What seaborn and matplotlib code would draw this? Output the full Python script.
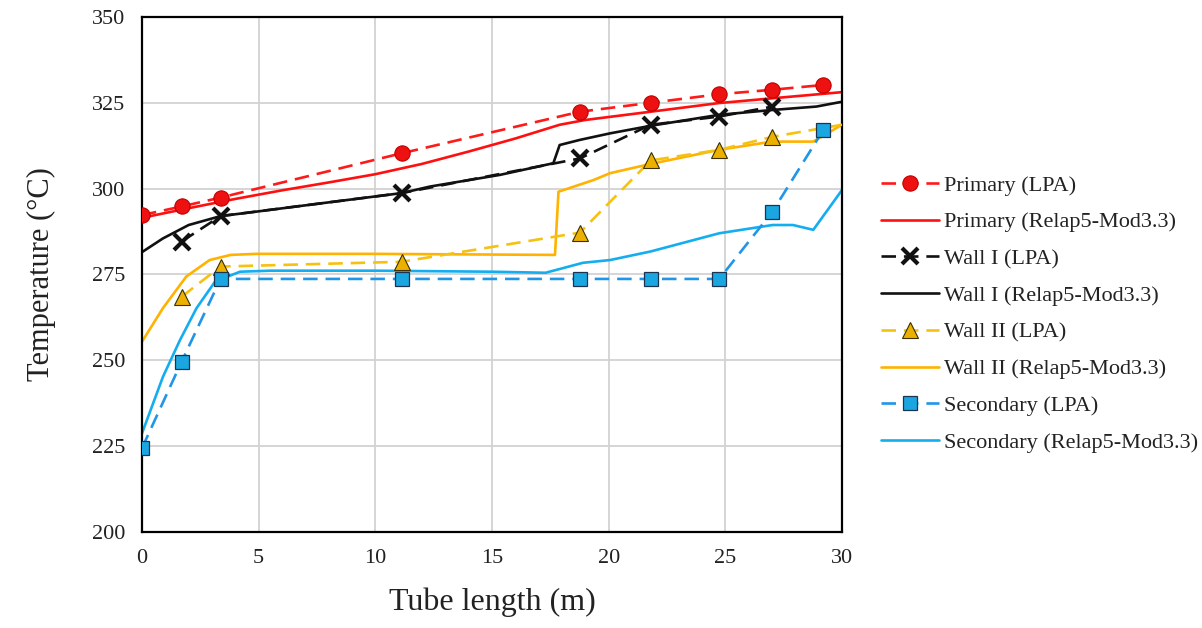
import matplotlib
matplotlib.use("Agg")
import matplotlib.pyplot as plt
import seaborn as sns
import pandas as pd

# ---------------- data ----------------
x_lpa = [0, 1.7, 3.37, 11.13, 18.77, 21.8, 24.74, 27.02, 29.2]
primary_lpa = [292.3, 294.8, 297.4, 310.3, 322.4, 325.0, 327.5, 328.8, 330.2]
secondary_lpa = [224.4, 249.6, 273.7, 273.7, 273.7, 273.7, 273.7, 293.3, 317.1]

x_wall1_lpa = [1.7, 3.37, 11.13, 18.77, 21.8, 24.74, 27.02]
wall1_lpa = [284.6, 292.0, 298.7, 308.8, 318.6, 321.0, 323.9]

x_wall2_lpa = [1.7, 3.37, 11.13, 18.77, 21.8, 24.74, 27.02, 30.0]
wall2_lpa = [268.5, 277.3, 278.7, 287.2, 308.2, 311.3, 315.1, 318.6]

x_primary_relap = [0, 2, 4, 6, 8, 10, 12, 14, 16, 17.9, 19, 21.8, 24.7, 27.0, 30.0]
primary_relap = [291.5, 294.3, 297.0, 299.5, 301.8, 304.2, 307.2, 310.8, 314.6,
                 318.6, 320.0, 322.4, 324.9, 326.3, 328.1]

x_wall1_relap = [0, 0.9, 2.0, 3.37, 4.9, 8, 11.13, 12.34, 15.34, 17.63, 17.9,
                 18.77, 20.06, 21.8, 24.74, 27.0, 28.9, 30.0]
wall1_relap = [281.5, 285.5, 289.4, 292.0, 293.3, 296.0, 298.7, 300.6, 304.0, 307.4,
               312.7, 314.2, 316.1, 318.3, 321.5, 322.9, 323.9, 325.3]

x_wall2_relap = [0, 0.9, 1.9, 2.9, 3.8, 4.9, 10, 15, 17.7, 17.85, 19.35, 20.06,
                 21.8, 24.74, 27.0, 28.77, 30.0]
wall2_relap = [255.4, 265.2, 274.4, 279.2, 280.7, 281.0, 281.0, 280.8, 280.7, 299.1,
               302.5, 304.5, 307.2, 311.3, 313.7, 313.7, 318.6]

x_secondary_relap = [0, 0.9, 1.63, 2.34, 3.13, 4.2, 5.5, 10, 15, 17.3, 18.9, 20.06,
                     21.8, 24.74, 27.02, 27.9, 28.77, 30.0]
secondary_relap = [228.7, 245.2, 255.9, 265.2, 272.9, 275.8, 276.1, 276.1, 275.8,
                   275.5, 278.4, 279.2, 281.7, 287.0, 289.4, 289.4, 288.0, 299.6]

labels = ["Primary (LPA)", "Primary (Relap5-Mod3.3)",
          "Wall I (LPA)", "Wall I (Relap5-Mod3.3)",
          "Wall II (LPA)", "Wall II (Relap5-Mod3.3)",
          "Secondary (LPA)", "Secondary (Relap5-Mod3.3)"]
x_ticks = [0, 5, 10, 15, 20, 25, 30]
y_ticks = [200, 225, 250, 275, 300, 325, 350]

# ---------------- style ----------------
sns.set_theme(style="white")
plt.rcParams["font.family"] = ["Liberation Serif", "DejaVu Serif"]

fig, ax = plt.subplots(figsize=(12.02, 6.28), dpi=100)
fig.subplots_adjust(left=0.1181, right=0.7005, top=0.973, bottom=0.1529)

dash = (0, (5.5, 3))
LW = 1.9

def relap(x, y, color, label):
    sns.lineplot(x=x, y=y, ax=ax, color=color, linewidth=LW, label=label,
                 estimator=None, sort=False, zorder=2)

def lpa(x, y, color, marker, ms, mfc, mec, mew, label, markevery=None):
    kw = {}
    if markevery is not None:
        kw["markevery"] = markevery
    sns.lineplot(x=x, y=y, ax=ax, color=color, linewidth=LW, linestyle=dash,
                 marker=marker, markersize=ms, markerfacecolor=mfc,
                 markeredgecolor=mec, markeredgewidth=mew, label=label,
                 estimator=None, sort=False, zorder=3, **kw)

lpa(x_lpa, primary_lpa, "#ff1a1a", "o", 11, "#ee1111", "#c00000", 0.8, labels[0])
relap(x_primary_relap, primary_relap, "#ff1010", labels[1])
lpa(x_wall1_lpa, wall1_lpa, "#111111", "x", 11, "#111111", "#111111", 3.0, labels[2])
relap(x_wall1_relap, wall1_relap, "#111111", labels[3])
lpa(x_wall2_lpa, wall2_lpa, "#f5c211", "^", 11, "#ecb100", "#3a3000", 0.8, labels[4],
    markevery=list(range(7)))
relap(x_wall2_relap, wall2_relap, "#ffb300", labels[5])
lpa(x_lpa, secondary_lpa, "#2196e8", "s", 10.5, "#1aa6e0", "#1b3550", 0.9, labels[6])
relap(x_secondary_relap, secondary_relap, "#14aef0", labels[7])

ax.set_xlim(0, 30)
ax.set_ylim(200, 350)
ax.set_xticks(x_ticks)
ax.set_yticks(y_ticks)
ax.grid(True, color="#d2d2d2", linewidth=1.3)
ax.set_axisbelow(True)
for s in ax.spines.values():
    s.set_color("black")
    s.set_linewidth(1.6)
ax.tick_params(length=0, labelsize=16, pad=12, colors="#222222")
ax.set_xlabel("Tube length (m)", fontsize=23, labelpad=14, color="#222222")
ax.set_ylabel("Temperature (°C)", fontsize=22, labelpad=26, color="#222222")

handles, labs = ax.get_legend_handles_labels()
if ax.get_legend() is not None:
    ax.get_legend().remove()
order = [labs.index(l) for l in labels]
fig.legend([handles[i] for i in order], labels, loc="center left",
           bbox_to_anchor=(0.733, 0.5), frameon=False, fontsize=16,
           handlelength=2.6, handletextpad=0.25, labelspacing=0.73,
           borderaxespad=0, borderpad=0, labelcolor="#222222")

fig.savefig("out.png", dpi=100, facecolor="white")
